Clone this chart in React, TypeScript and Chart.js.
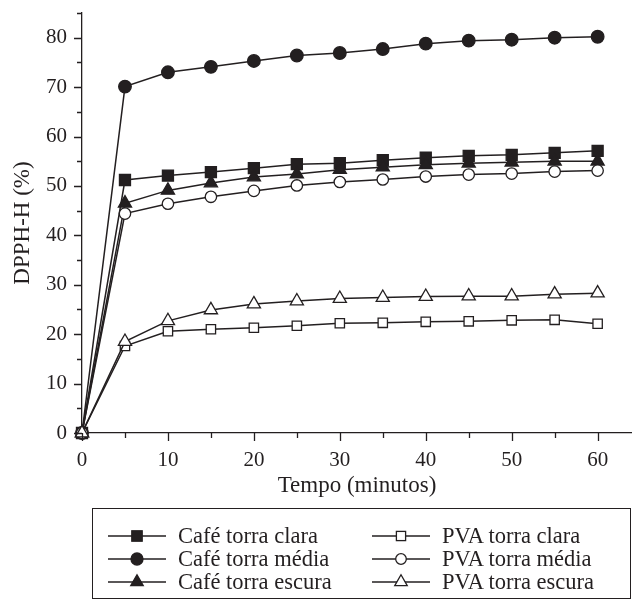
import { useEffect, useRef } from "react";
import { Chart, registerables } from "chart.js";

Chart.register(...registerables);

// Tempo de reação (minutos)
const minutes = [0, 5, 10, 15, 20, 25, 30, 35, 40, 45, 50, 55, 60];

// Atividade antioxidante, DPPH-H (%)
const cafeClara = [0, 51.2, 52.1, 52.8, 53.6, 54.4, 54.6, 55.2, 55.7, 56.1, 56.3, 56.7, 57.1];
const cafeMedia = [0, 70.1, 73.0, 74.1, 75.3, 76.4, 76.9, 77.7, 78.8, 79.4, 79.6, 80.0, 80.2];
const cafeEscura = [0, 46.5, 49.1, 50.6, 51.8, 52.4, 53.3, 53.8, 54.3, 54.6, 54.8, 55.0, 55.0];
const pvaClara = [0, 17.6, 20.6, 21.0, 21.3, 21.7, 22.2, 22.3, 22.5, 22.6, 22.8, 22.9, 22.1];
const pvaMedia = [0, 44.4, 46.4, 47.8, 49.0, 50.1, 50.8, 51.3, 51.9, 52.3, 52.5, 52.9, 53.1];
const pvaEscura = [0, 18.5, 22.7, 24.9, 26.1, 26.7, 27.2, 27.4, 27.6, 27.7, 27.7, 28.1, 28.3];

const seriesLabels = [
  "Café torra clara",
  "Café torra média",
  "Café torra escura",
  "PVA torra clara",
  "PVA torra média",
  "PVA torra escura",
];

const INK = "#231f20";
const SERIF = '"Liberation Serif", "DejaVu Serif", serif';

type Marker = { shape: "rect" | "circle" | "triangle"; filled: boolean; radius: number };

const markers: Marker[] = [
  { shape: "rect", filled: true, radius: 7.8 },
  { shape: "circle", filled: true, radius: 6.3 },
  { shape: "triangle", filled: true, radius: 7.6 },
  { shape: "rect", filled: false, radius: 6.6 },
  { shape: "circle", filled: false, radius: 5.7 },
  { shape: "triangle", filled: false, radius: 7.6 },
];

const seriesValues = [cafeClara, cafeMedia, cafeEscura, pvaClara, pvaMedia, pvaEscura];

// Outward tick marks: long at multiples of 10, short at the 5s.
const outwardTicks = {
  id: "outwardTicks",
  afterDraw(chart: any) {
    const { ctx, scales, chartArea } = chart;
    const x = scales.x;
    const y = scales.y;
    ctx.save();
    ctx.strokeStyle = INK;
    ctx.lineWidth = 1.3;
    ctx.beginPath();
    x.ticks.forEach((t: any) => {
      const px = Math.round(x.getPixelForValue(t.value)) + 0.5;
      const len = t.value % 10 === 0 ? 8 : 5;
      ctx.moveTo(px, chartArea.bottom);
      ctx.lineTo(px, chartArea.bottom + len);
    });
    y.ticks.forEach((t: any) => {
      const py = Math.round(y.getPixelForValue(t.value)) + 0.5;
      const len = t.value % 10 === 0 ? 8 : 5;
      ctx.moveTo(chartArea.left, py);
      ctx.lineTo(chartArea.left - len, py);
    });
    ctx.stroke();
    ctx.restore();
  },
};

function LegendSymbol({ m }: { m: Marker }) {
  const cx = 29;
  const cy = 10;
  const fill = m.filled ? INK : "#ffffff";
  let shape;
  if (m.shape === "rect") {
    const s = m.filled ? 5.2 : 4.6;
    shape = <rect x={cx - s} y={cy - s} width={2 * s} height={2 * s} fill={fill} stroke={INK} strokeWidth={1.3} />;
  } else if (m.shape === "circle") {
    shape = <circle cx={cx} cy={cy} r={m.filled ? 6 : 5.3} fill={fill} stroke={INK} strokeWidth={1.3} />;
  } else {
    const r = 7.2;
    const pts = [
      [cx, cy - r],
      [cx + r * 0.866, cy + r * 0.5],
      [cx - r * 0.866, cy + r * 0.5],
    ]
      .map((p) => p.join(","))
      .join(" ");
    shape = <polygon points={pts} fill={fill} stroke={INK} strokeWidth={1.3} />;
  }
  return (
    <svg width={58} height={20} style={{ display: "block" }}>
      <line x1={0} y1={cy} x2={58} y2={cy} stroke={INK} strokeWidth={1.4} />
      {shape}
    </svg>
  );
}

export default function App() {
  const canvasRef = useRef<HTMLCanvasElement | null>(null);

  useEffect(() => {
    const canvas = canvasRef.current;
    if (!canvas) return;

    const datasets = seriesValues.map((values, i) => {
      const m = markers[i];
      return {
        label: seriesLabels[i],
        data: minutes.map((t, k) => ({ x: t, y: values[k] })),
        // later series are painted over earlier ones
        order: seriesValues.length - i,
        borderColor: INK,
        borderWidth: 1.5,
        pointStyle: m.shape,
        pointRadius: m.radius,
        pointBackgroundColor: m.filled ? INK : "#ffffff",
        pointBorderColor: INK,
        pointBorderWidth: 1.3,
        fill: false,
        tension: 0,
        clip: false as any,
      };
    });

    const chart = new Chart(canvas, {
      type: "line",
      data: { datasets },
      options: {
        animation: false,
        responsive: false,
        devicePixelRatio: 1,
        layout: { autoPadding: false, padding: { top: 13, right: 0, bottom: 97, left: 0 } },
        plugins: {
          legend: { display: false },
          tooltip: { enabled: false },
        },
        scales: {
          x: {
            type: "linear",
            min: 0,
            max: 64,
            afterFit: (scale: any) => {
              scale.height = 70;
              scale.paddingLeft = 0;
              scale.paddingRight = 0;
            },
            grid: { display: false, drawTicks: false },
            border: { display: true, color: INK, width: 1.3 },
            ticks: {
              stepSize: 5,
              includeBounds: false,
              autoSkip: false,
              maxRotation: 0,
              padding: 15,
              color: INK,
              font: { family: SERIF, size: 21 },
              callback: (v: any) => (Number(v) % 10 === 0 ? String(v) : ""),
            },
            title: {
              display: true,
              text: "Tempo (minutos)",
              color: INK,
              font: { family: SERIF, size: 23 },
              padding: { top: 0, bottom: 3 },
            },
          },
          y: {
            type: "linear",
            min: 0,
            max: 85,
            afterFit: (scale: any) => {
              scale.width = 82;
              scale.paddingTop = 0;
              scale.paddingBottom = 0;
            },
            grid: { display: false, drawTicks: false },
            border: { display: true, color: INK, width: 1.3 },
            ticks: {
              stepSize: 5,
              autoSkip: false,
              padding: 15,
              color: INK,
              font: { family: SERIF, size: 21 },
              callback: (v: any) => (Number(v) % 10 === 0 ? String(v) : ""),
            },
            title: {
              display: true,
              text: "DPPH-H (%)",
              color: INK,
              font: { family: SERIF, size: 23 },
              padding: { top: 9, bottom: 0 },
            },
          },
        },
      },
      plugins: [outwardTicks],
    });

    return () => chart.destroy();
  }, []);

  const rowTops = [16, 39, 62];

  return (
    <div
      style={{
        position: "absolute",
        left: 0,
        top: 0,
        width: 632,
        height: 600,
        background: "#ffffff",
        overflow: "hidden",
      }}
    >
      <canvas ref={canvasRef} width={632} height={600} style={{ display: "block" }} />
      <div
        style={{
          position: "absolute",
          left: 92,
          top: 508,
          width: 539,
          height: 91,
          border: `1.5px solid ${INK}`,
          boxSizing: "border-box",
          fontFamily: SERIF,
          fontSize: 22.5,
          color: INK,
        }}
      >
        {seriesLabels.map((label, i) => {
          const col = i < 3 ? 0 : 1;
          const row = i % 3;
          const left = col === 0 ? 15 : 279;
          return (
            <div
              key={label}
              style={{
                position: "absolute",
                left,
                top: rowTops[row],
                height: 22,
                display: "flex",
                alignItems: "center",
                whiteSpace: "nowrap",
              }}
            >
              <LegendSymbol m={markers[i]} />
              <span style={{ marginLeft: 12, lineHeight: "22px" }}>{label}</span>
            </div>
          );
        })}
      </div>
    </div>
  );
}
